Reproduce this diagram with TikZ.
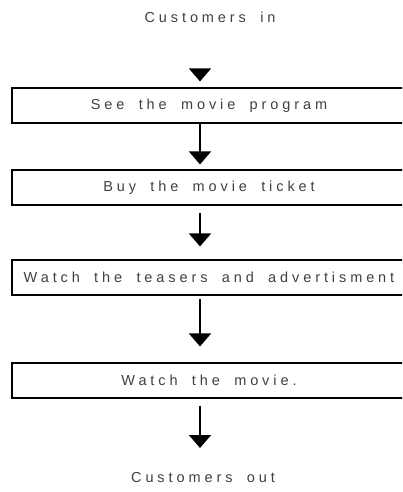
\documentclass[tikz,border=0pt]{standalone}
\usepackage{fontspec}
\usetikzlibrary{arrows.meta}
\newfontfamily\flowfont[LetterSpace=27,WordSpace=1.8]{Liberation Sans}

\begin{document}
\begin{tikzpicture}[x=1pt,y=-1pt,
  flowtext/.style={inner sep=0pt, text=black!75,
    font=\flowfont\fontsize{14.5}{17}\selectfont},
  stepbox/.style={flowtext, draw=black, line width=1.1pt,
    minimum width=394pt, minimum height=35pt},
  flow/.style={line width=1.6pt, -{Triangle[width=22pt,length=13pt]}}
]
\useasboundingbox (0,0) rectangle (402,492);
\clip (0,0) rectangle (402,492);

% start and end labels
\node[flowtext] (in)  at (210,17)  {Customers in};
\node[flowtext] (out) at (203,478) {Customers out};

% process steps (boxes run past the right edge)
\node[stepbox] (b1) at (209,105.5) {See the movie program};
\node[stepbox] (b2) at (209,187.5) {Buy the movie ticket};
\node[stepbox] (b3) at (209,277.5) {Watch the teasers and advertisment};
\node[stepbox] (b4) at (209,380.5) {Watch the movie.};

% vertical spine carrying the connectors
\coordinate (spine) at (200,0);

\draw[flow, shorten <=52pt, shorten >=6pt] (in.center -| spine) -- (b1.north -| spine);
\draw[flow, shorten >=5pt]  (b1.south -| spine) -- (b2.north -| spine);
\draw[flow, shorten <=7pt, shorten >=13pt] (b2.south -| spine) -- (b3.north -| spine);
\draw[flow, shorten <=3pt, shorten >=16pt] (b3.south -| spine) -- (b4.north -| spine);
\draw[flow, shorten <=7pt, shorten >=30pt] (b4.south -| spine) -- (out.center -| spine);
\end{tikzpicture}
\end{document}
